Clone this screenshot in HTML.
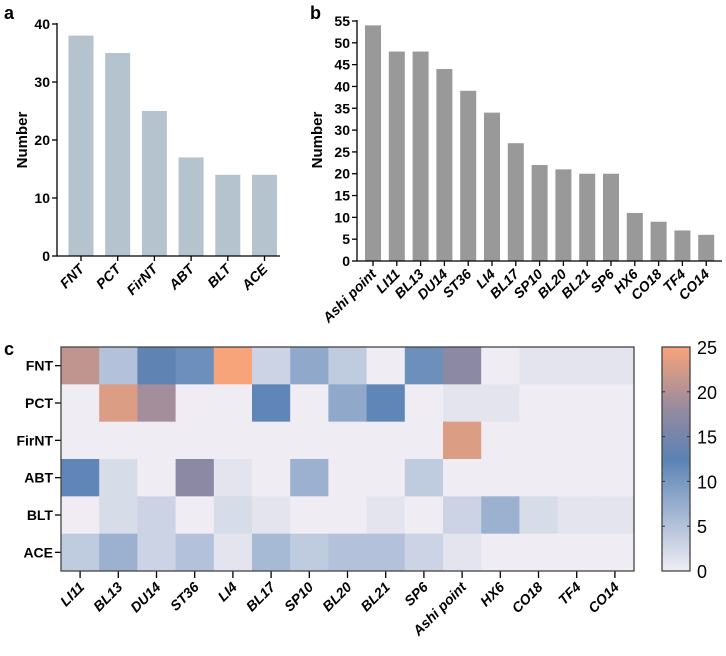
<!DOCTYPE html>
<html><head><meta charset="utf-8">
<style>
html,body{margin:0;padding:0;background:#fff;}
svg{display:block;font-family:"Liberation Sans",Arial,sans-serif;}
.tk{font-size:14px;font-weight:bold;fill:#000;}
.xl{font-size:14px;font-weight:bold;font-style:italic;fill:#000;}
</style></head>
<body>
<svg id="s" width="726" height="656" viewBox="0 0 726 656" xmlns="http://www.w3.org/2000/svg">
<text x="4" y="19" font-size="18" font-weight="bold">a</text>
<text x="310" y="19" font-size="18" font-weight="bold">b</text>
<text x="4" y="355" font-size="18" font-weight="bold">c</text>
<text transform="translate(27,140) rotate(-90)" text-anchor="middle" font-size="15" font-weight="bold">Number</text>
<text transform="translate(322,140) rotate(-90)" text-anchor="middle" font-size="15" font-weight="bold">Number</text>
<defs><linearGradient id="cg" x1="0" y1="1" x2="0" y2="0">
<stop offset="0" stop-color="#efedf3"/><stop offset="0.5" stop-color="#5a82b4"/><stop offset="0.72" stop-color="#968aa0"/><stop offset="1" stop-color="#f8a47a"/>
</linearGradient></defs>
<g id="ga"></g><g id="gb"></g><g id="gc"></g>
</svg>
<script>
const NS="http://www.w3.org/2000/svg";
function mk(p,t,a,txt){const e=document.createElementNS(NS,t);for(const k in a)e.setAttribute(k,a[k]);if(txt!==undefined)e.textContent=txt;p.appendChild(e);return e;}

// Panel a data
const aCats=["FNT","PCT","FirNT","ABT","BLT","ACE"];
const aVals=[38,35,25,17,14,14];
const aTicks=[0,10,20,30,40];
// Panel b data
const bCats=["Ashi point","LI11","BL13","DU14","ST36","LI4","BL17","SP10","BL20","BL21","SP6","HX6","CO18","TF4","CO14"];
const bVals=[54,48,48,44,39,34,27,22,21,20,20,11,9,7,6];
const bTicks=[0,5,10,15,20,25,30,35,40,45,50,55];
// Panel c data
const cRows=["FNT","PCT","FirNT","ABT","BLT","ACE"];
const cCols=["LI11","BL13","DU14","ST36","LI4","BL17","SP10","BL20","BL21","SP6","Ashi point","HX6","CO18","TF4","CO14"];
const rowFNT=[21,5,13,11,25,3,8,4,0,11,17,0,1,1,1];
const rowPCT=[0,23,19,0,0,12,0,8,12,0,1,1,0,0,0];
const rowFirNT=[0,0,0,0,0,0,0,0,0,0,23,0,0,0,0];
const rowABT=[12,2,0,17,1,0,7,0,0,4,0,0,0,0,0];
const rowBLT=[0,2,3,0,2,1,0,0,1,0,3,7,2,1,1];
const rowACE=[4,7,3,5,1,6,4,5,5,3,1,0,0,0,0];
const cMatrix=[rowFNT,rowPCT,rowFirNT,rowABT,rowBLT,rowACE];
const cbTicks=[0,5,10,15,20,25];

function barChart(g,cats,vals,ticks,o,pre){
  const y=v=>o.y0-(v-ticks[0])/(ticks[ticks.length-1]-ticks[0])*(o.y0-o.y1);
  const x=i=>o.x0+o.pad+i*o.step;
  cats.forEach((c,i)=>{
    const r=mk(g,"rect",{x:x(i)-o.bw/2,y:y(vals[i]),width:o.bw,height:o.y0-y(vals[i]),fill:o.color});
    
    
    mk(g,"line",{x1:x(i),x2:x(i),y1:o.y0,y2:o.y0+5,stroke:"#000","stroke-width":1.3});
    const t=mk(g,"text",{class:"xl","text-anchor":"end",transform:`translate(${x(i)+4},${o.y0+14}) rotate(-45)`},c);
    
    
  });
  ticks.forEach(v=>{
    mk(g,"line",{x1:o.x0-5,x2:o.x0,y1:y(v),y2:y(v),stroke:"#000","stroke-width":1.3});
    const t=mk(g,"text",{class:"tk","text-anchor":"end",x:o.x0-7,y:y(v)+5},v);
    
    
  });
  const ax=mk(g,"path",{d:`M${o.x0},${o.y1-1}V${o.y0}H${o.x1}`,fill:"none",stroke:"#000","stroke-width":1.3});
  
  
}
barChart(document.getElementById("ga"),aCats,aVals,aTicks,{x0:57,x1:280,y0:256,y1:24,pad:24,step:36.7,bw:25,color:"#b4c3cd"},"a");
barChart(document.getElementById("gb"),bCats,bVals,bTicks,{x0:357,x1:722,y0:261,y1:21,pad:16,step:23.8,bw:16,color:"#999999"},"b");

// heatmap
const stops=[[0,[239,237,243]],[12.5,[90,130,180]],[18,[150,138,160]],[25,[248,164,122]]];
function col(v){
  for(let i=0;i<stops.length-1;i++){const a=stops[i],b=stops[i+1];
    if(v<=b[0]){const t=(v-a[0])/(b[0]-a[0]);return "rgb("+a[1].map((c,k)=>Math.round(c+(b[1][k]-c)*t)).join(",")+")";}}
  return "rgb(248,164,122)";
}
const gc=document.getElementById("gc");
const hx0=61,hx1=634,hy0=347,hy1=571;
const cw=(hx1-hx0)/cCols.length,ch=(hy1-hy0)/cRows.length;
cMatrix.forEach((row,r)=>{
  row.forEach((v,c)=>{
    const e=mk(gc,"rect",{x:hx0+c*cw,y:hy0+r*ch,width:cw+0.5,height:ch+0.5,fill:col(v)});
    
    
  });
  const yy=hy0+(r+0.5)*ch;
  mk(gc,"line",{x1:hx0-6,x2:hx0,y1:yy,y2:yy,stroke:"#000","stroke-width":1.3});
  const t=mk(gc,"text",{class:"tk","font-size":"15","text-anchor":"end",x:hx0-8,y:yy+5},cRows[r]);
  
  
});
cCols.forEach((c,i)=>{
  const xx=hx0+(i+0.5)*cw;
  mk(gc,"line",{x1:xx,x2:xx,y1:hy1,y2:hy1+7,stroke:"#000","stroke-width":1.3});
  const t=mk(gc,"text",{class:"xl","text-anchor":"end",transform:`translate(${xx+5},${hy1+17}) rotate(-45)`},c);
  
  
});
const fr=mk(gc,"rect",{x:hx0,y:hy0,width:hx1-hx0,height:hy1-hy0,fill:"none",stroke:"#444","stroke-width":1.3});


// colorbar
const cbx=662,cbw=28;
const cb=mk(gc,"rect",{x:cbx,y:hy0,width:cbw,height:hy1-hy0,fill:"url(#cg)",stroke:"#444","stroke-width":1.3});


cbTicks.forEach(v=>{
  const yy=hy1-v/25*(hy1-hy0);
  if(v>0&&v<25){mk(gc,"line",{x1:cbx,x2:cbx+3,y1:yy,y2:yy,stroke:"#333"});mk(gc,"line",{x1:cbx+cbw-3,x2:cbx+cbw,y1:yy,y2:yy,stroke:"#333"});}
  const t=mk(gc,"text",{x:cbx+cbw+7,y:yy+7,"font-size":"18",fill:"#000"},v);
  
  
});
</script>
</body></html>
